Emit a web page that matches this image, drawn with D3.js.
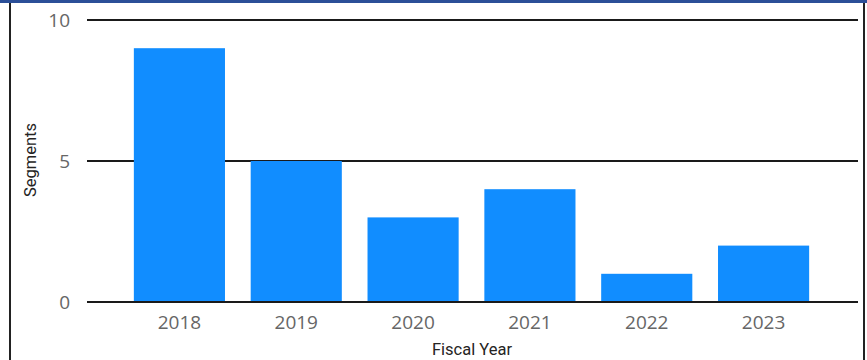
<!DOCTYPE html>
<html>
<head>
<meta charset="utf-8">
<script src="https://cdn.jsdelivr.net/npm/d3@7/dist/d3.min.js"></script>
<style>
  html, body { margin: 0; padding: 0; background: #ffffff; }
  svg { display: block; }
</style>
</head>
<body>
<svg id="chart" width="867" height="360"></svg>
<script>
// Segments per fiscal year
const years = ["2018", "2019", "2020", "2021", "2022", "2023"];
const segments = [9, 5, 3, 4, 1, 2];
const yTicks = [0, 5, 10];

const svg = d3.select("#chart");
const W = 867, H = 360;

// Frame: accent band on top, thin dark sides
svg.append("rect").attr("x", 0).attr("y", 0).attr("width", W).attr("height", 3).attr("fill", "#2b4f98");
svg.append("line").attr("x1", 10).attr("x2", 10).attr("y1", 3).attr("y2", H)
  .attr("stroke", "#222").attr("stroke-width", 2);
svg.append("line").attr("x1", 864).attr("x2", 864).attr("y1", 3).attr("y2", H)
  .attr("stroke", "#222").attr("stroke-width", 2);

const gridLeft = 87, gridRight = 858;
const y = d3.scaleLinear().domain([0, 10]).range([302, 20]);
const x = d3.scaleBand().domain(years).range([121, 822]).paddingInner(0.22).paddingOuter(0.11);

// Horizontal gridlines
svg.append("g").selectAll("line").data(yTicks).join("line")
  .attr("x1", gridLeft).attr("x2", gridRight)
  .attr("y1", d => y(d)).attr("y2", d => y(d))
  .attr("stroke", "#1a1a1a").attr("stroke-width", 2);

// Y tick labels
svg.append("g").selectAll("text").data(yTicks).join("text")
  .attr("x", 70).attr("y", d => y(d))
  .attr("text-anchor", "end").attr("dominant-baseline", "central")
  .attr("font-family", "'Open Sans', sans-serif").attr("font-size", 19)
  .attr("fill", "#666666")
  .text(d => d);

// Bars
svg.append("g").selectAll("rect").data(years).join("rect")
  .attr("x", d => x(d))
  .attr("width", x.bandwidth())
  .attr("y", (d, i) => y(segments[i]))
  .attr("height", (d, i) => y(0) - y(segments[i]))
  .attr("fill", "#118dff");

// Redraw baseline over bars
svg.append("line").attr("x1", gridLeft).attr("x2", gridRight)
  .attr("y1", y(0)).attr("y2", y(0)).attr("stroke", "#1a1a1a").attr("stroke-width", 2);

// X tick labels
svg.append("g").selectAll("text").data(years).join("text")
  .attr("x", d => x(d) + x.bandwidth() / 2).attr("y", 322)
  .attr("text-anchor", "middle").attr("dominant-baseline", "central")
  .attr("font-family", "'Open Sans', sans-serif").attr("font-size", 19)
  .attr("fill", "#666666")
  .text(d => d);

// Axis titles
svg.append("text")
  .attr("x", 472).attr("y", 349)
  .attr("text-anchor", "middle").attr("dominant-baseline", "central")
  .attr("font-family", "Roboto, sans-serif").attr("font-size", 16.5)
  .attr("fill", "#252423")
  .text("Fiscal Year");

svg.append("text")
  .attr("transform", "translate(30,160) rotate(-90)")
  .attr("text-anchor", "middle").attr("dominant-baseline", "central")
  .attr("font-family", "Roboto, sans-serif").attr("font-size", 16.5)
  .attr("fill", "#252423")
  .text("Segments");
</script>
</body>
</html>
